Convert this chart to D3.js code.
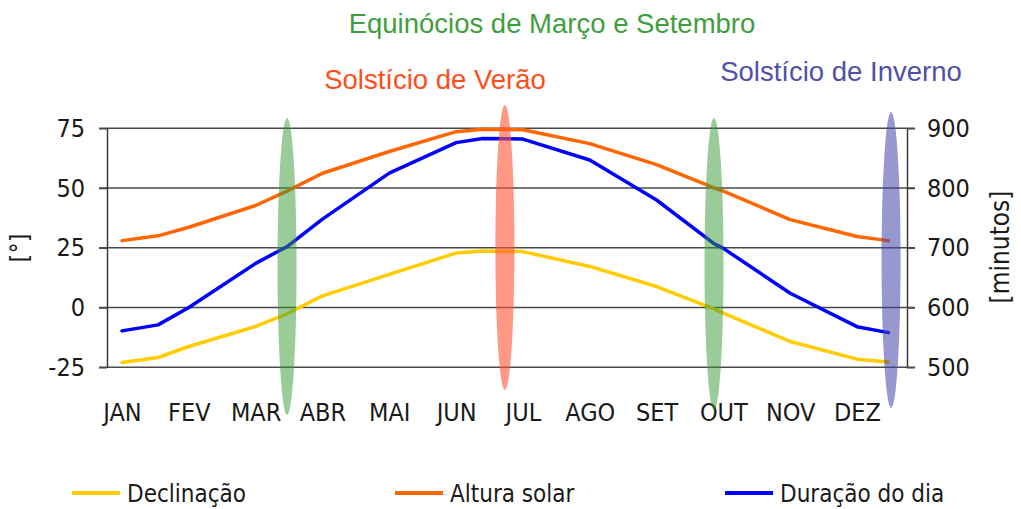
<!DOCTYPE html>
<html>
<head>
<meta charset="utf-8">
<script src="https://cdn.jsdelivr.net/npm/d3@7"></script>
<style>
  body { margin: 0; background: #fff; }
  svg { display: block; }
</style>
</head>
<body>
<div id="chart"></div>
<script>
// months on the x axis
const months = ["JAN", "FEV", "MAR", "ABR", "MAI", "JUN", "JUL", "AGO", "SET", "OUT", "NOV", "DEZ"];

// x position of each data point, in months (0 = JAN)
const pos = [0, 0.54, 1, 2, 2.47, 3, 4, 5, 5.4, 6, 7, 8, 8.86, 9, 10, 11, 11.47];

// declinação [°]
const declinacao = [-23.0, -20.9, -16.3, -7.9, -2.6, 4.9, 13.9, 22.8, 23.7, 23.4, 17.2, 8.8, -0.6, -2.3, -14.2, -21.6, -22.8];
// altura solar [°]
const altura = [28.0, 30.0, 33.6, 42.7, 48.7, 56.2, 65.3, 73.6, 74.6, 74.4, 68.6, 59.8, 50.1, 48.7, 36.8, 29.7, 28.0];
// duração do dia [minutos]
const duracao = [561, 571, 600, 674, 702, 748, 825, 876, 883, 882, 847, 780, 707, 699, 624, 568, 558];

const leftTicks = [-25, 0, 25, 50, 75];
const rightTicks = [500, 600, 700, 800, 900];

// marked dates (equinoxes / solstices), in months, with their vertical extent in [°]
const marks = [
  { at: 2.47, color: "#339933", op: 0.5, top: 79.3, bottom: -45 },
  { at: 5.73, color: "#ff5533", op: 0.6, top: 84.7, bottom: -34.5 },
  { at: 8.86, color: "#339933", op: 0.5, top: 79.3, bottom: -43 },
  { at: 11.51, color: "#4444aa", op: 0.55, top: 81.8, bottom: -42 }
];

const width = 1021, height = 509;
const font = "'DejaVu Sans Condensed', 'DejaVu Sans', sans-serif";

const svg = d3.select("#chart")
  .append("svg")
  .attr("width", width)
  .attr("height", height);

const x = d3.scaleLinear().domain([0, 11]).range([122, 857]);
const yL = d3.scaleLinear().domain([-25, 75]).range([367.3, 128.3]);
const yR = d3.scaleLinear().domain([500, 900]).range([367.3, 128.3]);

// gridlines
svg.append("g")
  .selectAll("line")
  .data(leftTicks)
  .join("line")
  .attr("x1", 99)
  .attr("x2", 915)
  .attr("y1", d => yL(d))
  .attr("y2", d => yL(d))
  .attr("stroke", "#4a4a4a")
  .attr("stroke-width", 1.5);

// left axis
const gL = svg.append("g")
  .attr("transform", "translate(107,0)")
  .call(d3.axisLeft(yL).tickValues(leftTicks).tickFormat(d => String(d))
    .tickSize(8).tickSizeOuter(0).tickPadding(14));

// right axis
const gR = svg.append("g")
  .attr("transform", "translate(907,0)")
  .call(d3.axisRight(yR).tickValues(rightTicks).tickFormat(d => String(d))
    .tickSize(8).tickSizeOuter(0).tickPadding(12));

[gL, gR].forEach(g => {
  g.select(".domain").attr("stroke", "#3a3a3a").attr("stroke-width", 1.5);
  g.selectAll(".tick line").attr("stroke", "#4a4a4a").attr("stroke-width", 1.5);
  g.selectAll("text")
    .style("font-family", font)
    .style("font-size", "25px")
    .attr("fill", "#1a1a1a");
});

// month labels
const gX = svg.append("g")
  .attr("transform", "translate(0,367)")
  .call(d3.axisBottom(x).tickValues(d3.range(12)).tickFormat(i => months[i]).tickSize(0).tickPadding(36));
gX.select(".domain").remove();
gX.selectAll("text")
  .style("font-family", font)
  .style("font-size", "25px")
  .attr("fill", "#1a1a1a");

// axis titles
svg.append("text")
  .attr("transform", "translate(28,248) rotate(-90)")
  .attr("text-anchor", "middle")
  .style("font-family", font)
  .style("font-size", "25px")
  .attr("fill", "#1a1a1a")
  .text("[°]");

svg.append("text")
  .attr("transform", "translate(1009,247) rotate(-90)")
  .attr("text-anchor", "middle")
  .style("font-family", font)
  .style("font-size", "26px")
  .attr("fill", "#1a1a1a")
  .text("[minutos]");

// lines
const series = [
  { name: "Declinação", values: declinacao, y: yL, color: "#ffcc00" },
  { name: "Altura solar", values: altura, y: yL, color: "#ff6600" },
  { name: "Duração do dia", values: duracao, y: yR, color: "#0000ff" }
];

series.forEach(s => {
  const line = d3.line()
    .x((d, i) => x(pos[i]))
    .y(d => s.y(d));
  svg.append("path")
    .datum(s.values)
    .attr("fill", "none")
    .attr("stroke", s.color)
    .attr("stroke-width", 3.5)
    .attr("stroke-linejoin", "round")
    .attr("stroke-linecap", "round")
    .attr("d", line);
});

// ellipses over the lines
svg.append("g")
  .selectAll("ellipse")
  .data(marks)
  .join("ellipse")
  .attr("cx", d => x(d.at))
  .attr("cy", d => (yL(d.top) + yL(d.bottom)) / 2)
  .attr("rx", 9.5)
  .attr("ry", d => (yL(d.bottom) - yL(d.top)) / 2)
  .attr("fill", d => d.color)
  .attr("opacity", d => d.op);

// headings
const heads = [
  { text: "Equinócios de Março e Setembro", x: 552, y: 33, color: "#3f9f3f" },
  { text: "Solstício de Verão", x: 435, y: 89, color: "#ff4d1a" },
  { text: "Solstício de Inverno", x: 841, y: 81, color: "#5050a8" }
];
svg.append("g")
  .selectAll("text")
  .data(heads)
  .join("text")
  .attr("x", d => d.x)
  .attr("y", d => d.y)
  .attr("text-anchor", "middle")
  .style("font-family", "'Liberation Sans', Arial, sans-serif")
  .style("font-size", "27.5px")
  .attr("fill", d => d.color)
  .text(d => d.text);

// legend
const legendX = [72, 395, 725];
const leg = svg.append("g")
  .selectAll("g")
  .data(series)
  .join("g")
  .attr("transform", (d, i) => `translate(${legendX[i]},493)`);

leg.append("line")
  .attr("x1", 0)
  .attr("x2", 48)
  .attr("stroke", d => d.color)
  .attr("stroke-width", 4);

leg.append("text")
  .attr("x", 55)
  .attr("y", 9)
  .style("font-family", font)
  .style("font-size", "24px")
  .attr("fill", "#1a1a1a")
  .text(d => d.name);
</script>
</body>
</html>
